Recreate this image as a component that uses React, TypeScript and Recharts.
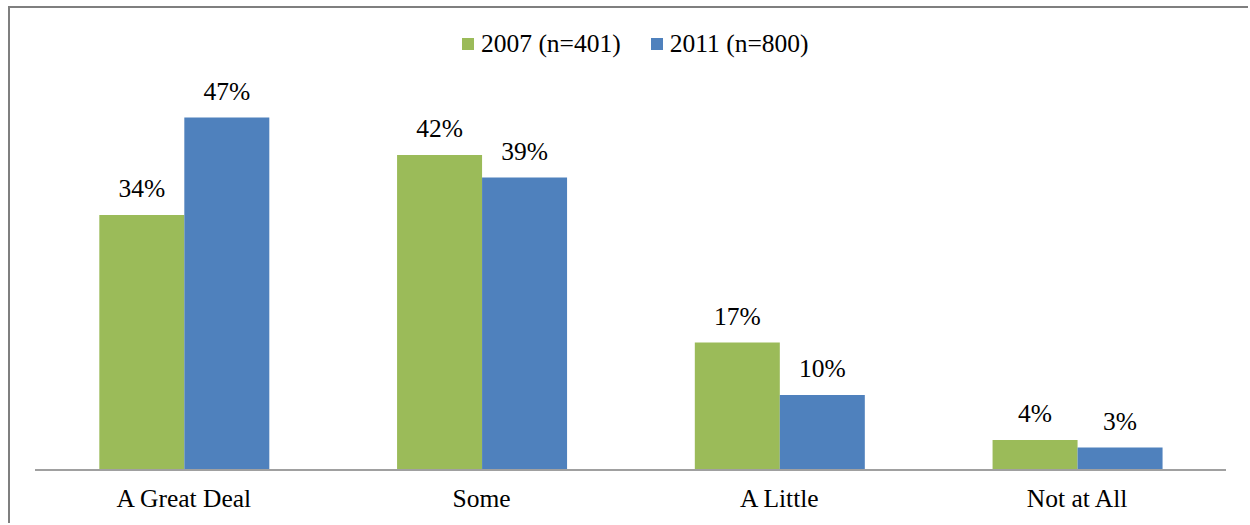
import React from "react";
import { BarChart, Bar, XAxis, YAxis, LabelList } from "recharts";

const categories = ["A Great Deal", "Some", "A Little", "Not at All"];
const series2007 = [34, 42, 17, 4];
const series2011 = [47, 39, 10, 3];
const seriesNames = ["2007 (n=401)", "2011 (n=800)"];
const colors = ["#9BBB59", "#4F81BD"];

const data = categories.map((c, i) => ({ name: c, a: series2007[i], b: series2011[i] }));

const FONT = "Liberation Serif";
const FS = 25.5;

const fmt = (v: any) => `${v}%`;

export default function App() {
  return (
    <div
      style={{
        position: "absolute",
        left: 8,
        top: 6,
        width: 1238,
        height: 515,
        borderTop: "2px solid #7f7f7f",
        borderLeft: "2px solid #7f7f7f",
        fontFamily: FONT,
      }}
    >
      <style>{`.recharts-wrapper, .recharts-wrapper svg, .recharts-wrapper text, .recharts-text { font-family: "Liberation Serif", serif !important; }`}</style>
      <div
        style={{
          position: "absolute",
          left: 452,
          top: 22,
          height: 28,
          display: "flex",
          alignItems: "center",
          fontFamily: FONT,
          fontSize: FS,
          color: "#000",
          whiteSpace: "nowrap",
        }}
      >
        {seriesNames.map((n, i) => (
          <div key={n} style={{ display: "flex", alignItems: "center", marginRight: i === 0 ? 30 : 0 }}>
            <div style={{ width: 12, height: 12, background: colors[i], marginRight: 7 }} />
            <span>{n}</span>
          </div>
        ))}
      </div>
      <BarChart
        width={1238}
        height={515}
        data={data}
        margin={{ top: 87, right: 22, bottom: 23, left: 25 }}
        barGap={0}
        barCategoryGap="21.6%"
        style={{ fontFamily: FONT }}
      >
        <XAxis
          dataKey="name"
          height={30}
          tickLine={false}
          tickSize={0}
          tickMargin={19}
          axisLine={{ stroke: "#a0a0a0", strokeWidth: 2 }}
          tick={{ fill: "#000", fontSize: FS, fontFamily: FONT }}
          interval={0}
        />
        <YAxis hide domain={[0, 50]} />
        <Bar dataKey="a" name={seriesNames[0]} fill={colors[0]} isAnimationActive={false}>
          <LabelList dataKey="a" position="top" offset={18} formatter={fmt} fill="#000" fontSize={FS} fontFamily={FONT} />
        </Bar>
        <Bar dataKey="b" name={seriesNames[1]} fill={colors[1]} isAnimationActive={false}>
          <LabelList dataKey="b" position="top" offset={18} formatter={fmt} fill="#000" fontSize={FS} fontFamily={FONT} />
        </Bar>
      </BarChart>
    </div>
  );
}
